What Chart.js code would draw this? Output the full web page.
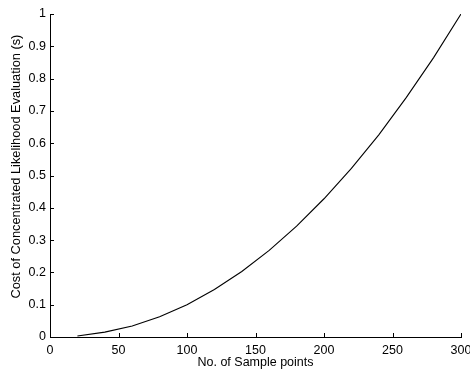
<!DOCTYPE html>
<html>
<head>
<meta charset="utf-8">
<script src="https://cdn.jsdelivr.net/npm/chart.js@4/dist/chart.umd.min.js"></script>
<style>
    html, body { margin: 0; padding: 0; background: #fff; }
    #chart_div { width: 470px; height: 372px; }
</style>
</head>
<body>
<div id="chart_div"><canvas id="cost_chart_cnv"></canvas></div>
<script>
// sample sizes and evaluation cost
const sample_points = [20, 40, 60, 80, 100, 120, 140, 160, 180, 200, 220, 240, 260, 280, 300];
const eval_cost = [0.003, 0.015, 0.034, 0.063, 0.1, 0.147, 0.203, 0.268, 0.343, 0.428, 0.522, 0.626, 0.741, 0.865, 1.0];

const x_ticks = [0, 50, 100, 150, 200, 250, 300];
const y_ticks = [0, 0.1, 0.2, 0.3, 0.4, 0.5, 0.6, 0.7, 0.8, 0.9, 1];

const x_title = "No. of Sample points";
// leading spaces push the label up a little, as MATLAB placed it
const y_title = "     Cost of Concentrated Likelihood Evaluation (s)";

const font_family = "'Liberation Sans', Arial, Helvetica, sans-serif";

/**
 * MATLAB style tick marks pointing into the plot area.
 */
const inward_ticks = {
    id: "inward_ticks",
    afterDraw(chart) {
        const ctx = chart.ctx;
        const x_scale = chart.scales.x;
        const y_scale = chart.scales.y;
        const len = 4;
        ctx.save();
        ctx.strokeStyle = "#000";
        ctx.lineWidth = 1;
        ctx.beginPath();
        x_scale.ticks.forEach(function (t, i) {
            const px = Math.round(x_scale.getPixelForTick(i)) + 0.5;
            ctx.moveTo(px, y_scale.bottom);
            ctx.lineTo(px, y_scale.bottom - len);
        });
        y_scale.ticks.forEach(function (t, i) {
            const py = Math.round(y_scale.getPixelForTick(i)) + 0.5;
            ctx.moveTo(x_scale.left, py);
            ctx.lineTo(x_scale.left + len, py);
        });
        ctx.stroke();
        ctx.restore();
    }
};

const cost_chart = new Chart(document.getElementById("cost_chart_cnv").getContext("2d"), {
    "type": "line",
    "data": {
        "datasets": [{
            "data": sample_points.map(function (x, i) { return {"x": x, "y": eval_cost[i]}; }),
            "borderColor": "#000",
            "borderWidth": 1.1,
            "pointRadius": 0,
            "tension": 0,
            "fill": false
        }]
    },
    "options": {
        "responsive": true,
        "maintainAspectRatio": false,
        "animation": false,
        "layout": {"padding": {"left": 0, "top": 14, "right": 9, "bottom": 0}},
        "plugins": {
            "legend": {"display": false},
            "tooltip": {"enabled": false}
        },
        "scales": {
            "x": {
                "type": "linear",
                "min": 0,
                "max": 300,
                "afterBuildTicks": function (scale) {
                    scale.ticks = x_ticks.map(function (v) { return {"value": v}; });
                },
                "afterFit": function (scale) {
                    scale.height = 35;
                    scale.paddingLeft = 0;
                    scale.paddingRight = 0;
                },
                "grid": {"display": false, "drawTicks": false},
                "border": {"display": true, "color": "#000", "width": 1},
                "ticks": {
                    "autoSkip": false,
                    "maxRotation": 0,
                    "padding": 6,
                    "color": "#000",
                    "font": {"family": font_family, "size": 12.5}
                },
                "title": {
                    "display": true,
                    "text": x_title,
                    "color": "#000",
                    "padding": {"top": 0, "bottom": 2},
                    "font": {"family": font_family, "size": 12.5}
                }
            },
            "y": {
                "type": "linear",
                "min": 0,
                "max": 1,
                "afterBuildTicks": function (scale) {
                    scale.ticks = y_ticks.map(function (v) { return {"value": v}; });
                },
                "afterFit": function (scale) {
                    scale.width = 50;
                    scale.paddingTop = 0;
                    scale.paddingBottom = 0;
                },
                "grid": {"display": false, "drawTicks": false},
                "border": {"display": true, "color": "#000", "width": 1},
                "ticks": {
                    "autoSkip": false,
                    "padding": 4,
                    "color": "#000",
                    "font": {"family": font_family, "size": 12.5},
                    "callback": function (v) { return String(Math.round(v * 10) / 10); }
                },
                "title": {
                    "display": true,
                    "text": y_title,
                    "color": "#000",
                    "padding": {"top": 9, "bottom": 0},
                    "font": {"family": font_family, "size": 12.8}
                }
            }
        }
    },
    "plugins": [inward_ticks]
});
</script>
</body>
</html>
